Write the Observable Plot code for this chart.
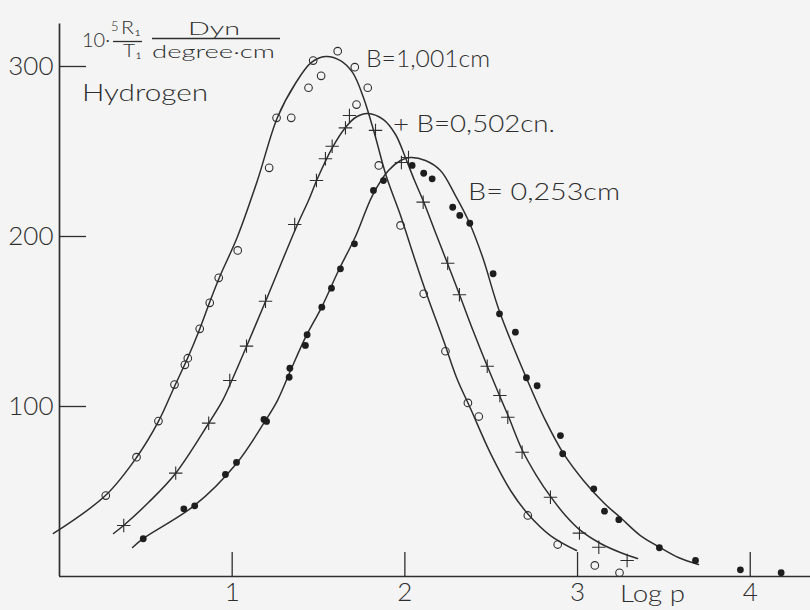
<!DOCTYPE html>
<html>
<head>
<meta charset="utf-8">
<script src="https://cdn.jsdelivr.net/npm/d3@7"></script>
<script src="https://cdn.jsdelivr.net/npm/@observablehq/plot@0.6"></script>
<style>
html, body { margin: 0; padding: 0; background: #f4f4f4; }
#chart svg { display: block; }
</style>
</head>
<body>
<div id="chart"></div>
<script>
// ---- tick values ----
const xTicks = [1, 2, 3, 4];
const yTicks = [100, 200, 300];

// ---- measured points: B = 1,001 cm (open circles) ----
const circleLogp = [0.268,0.446,0.573,0.666,0.726,0.743,0.812,0.870,0.922,1.032,1.214,1.257,1.342,1.442,1.469,1.515,1.611,1.710,1.720,1.785,1.849,1.975,2.109,2.235,2.365,2.428,2.712,2.885,3.100,3.243];
const circleR    = [47.6,70.2,91.4,112.9,124.5,128.4,145.7,161.0,175.7,191.8,240.4,269.8,269.8,287.5,303.5,294.5,309.0,299.6,277.6,287.5,241.8,206.5,166.3,132.5,102.1,94.1,35.9,18.8,6.5,2.2];

// ---- measured points: B = 0,502 cm (plus) ----
const plusLogp = [0.372,0.673,0.864,0.986,1.083,1.193,1.362,1.488,1.540,1.579,1.656,1.679,1.830,1.980,2.021,2.106,2.248,2.316,2.477,2.550,2.596,2.679,2.843,3.011,3.123,3.287];
const plusR    = [30.0,60.8,90.2,115.3,135.5,161.9,207.1,232.9,245.7,253.1,263.9,271.2,262.4,243.5,246.5,220.2,184.3,165.7,123.7,106.5,93.7,73.1,46.6,25.5,17.2,9.4];

// ---- measured points: B = 0,253 cm (filled dots) ----
const dotLogp = [0.485,0.720,0.783,0.961,1.025,1.184,1.199,1.330,1.334,1.424,1.434,1.519,1.575,1.627,1.708,1.818,1.876,2.042,2.109,2.158,2.277,2.318,2.376,2.511,2.548,2.640,2.704,2.766,2.901,2.914,3.094,3.156,3.239,3.474,3.683,3.943,4.179];
const dotR    = [22.2,39.8,41.6,60.0,67.1,92.4,91.2,117.2,122.5,135.9,142.2,158.4,169.6,181.0,195.7,227.1,232.9,241.8,237.2,233.9,217.2,212.4,207.8,178.1,154.5,143.7,116.9,112.2,82.9,72.2,51.6,38.4,33.4,16.9,9.4,3.9,2.2];

// ---- drawn curves ----
const curve1Logp = [-0.035,0.266,0.446,0.573,0.666,0.741,0.811,0.869,0.926,1.031,1.146,1.262,1.366,1.459,1.540,1.627,1.697,1.760,1.824,1.893,1.975,2.056,2.131,2.224,2.299,2.380,2.496,2.612,2.710,2.843,2.994];
const curve1R    = [25.3,47.6,70.0,91.2,111.8,128.2,145.3,161.2,175.9,200.0,232.9,270.0,290.0,302.4,305.9,303.5,296.5,281.8,260.6,235.3,212.4,187.1,164.7,138.8,117.1,98.8,72.4,50.6,37.1,24.1,15.3];

const curve2Logp = [0.313,0.371,0.515,0.672,0.863,0.944,0.990,1.083,1.193,1.378,1.442,1.494,1.581,1.656,1.714,1.784,1.876,1.946,2.003,2.056,2.108,2.177,2.247,2.316,2.397,2.478,2.548,2.600,2.681,2.762,2.843,2.930,3.017,3.133,3.248,3.347];
const curve2R    = [25.3,30.0,43.5,60.6,90.0,103.5,113.5,135.3,161.8,207.1,221.2,234.1,252.4,264.1,270.0,272.4,268.8,260.0,246.5,232.9,220.6,202.4,184.1,165.9,144.1,123.5,106.5,94.1,74.1,59.4,47.1,35.9,27.1,19.4,14.1,10.6];

const curve3Logp = [0.423,0.486,0.782,1.025,1.193,1.262,1.338,1.430,1.517,1.616,1.714,1.812,1.905,1.975,2.032,2.119,2.206,2.293,2.368,2.449,2.548,2.710,2.814,2.918,3.034,3.156,3.248,3.364,3.469,3.584,3.700];
const curve3R    = [17.1,22.4,41.8,66.5,91.8,103.5,121.2,141.8,158.2,180.0,200.0,224.1,238.8,244.7,246.5,244.7,238.8,224.1,209.4,188.2,155.9,115.3,91.8,72.4,56.5,42.9,34.7,24.1,17.6,11.2,7.1];

// ---- texts ----
const seriesLabels = ["B=1,001cm", "+ B=0,502cn.", "B= 0,253cm"];
const gasLabel = "Hydrogen";
const xAxisLabel = "Log p";

// ---- build tables ----
const rows = (xs, ys) => xs.map((x, i) => ({logp: x, r: ys[i]}));
const circles = rows(circleLogp, circleR);
const pluses = rows(plusLogp, plusR);
const dots = rows(dotLogp, dotR);
const curve1 = rows(curve1Logp, curve1R);
const curve2 = rows(curve2Logp, curve2R);
const curve3 = rows(curve3Logp, curve3R);

const INK = "#2e2e2e";
const FONT = "Lato, 'DejaVu Sans', sans-serif";

const plot = Plot.plot({
  width: 810,
  height: 610,
  marginLeft: 59,
  marginRight: 0,
  marginTop: 23.5,
  marginBottom: 34,
  x: {domain: [0, 4.349]},
  y: {domain: [0, 325]},
  style: {background: "#f4f4f4", color: INK, fontFamily: FONT, overflow: "visible"},
  marks: [
    Plot.ruleX([0], {stroke: INK, strokeWidth: 1.7}),
    Plot.ruleY([0], {stroke: INK, strokeWidth: 1.7}),
    Plot.axisX(xTicks, {tickSize: -24, tickPadding: 30, fontSize: 26, fontWeight: 300, label: null, stroke: INK, strokeWidth: 1.3, tickFormat: d => String(d)}),
    Plot.axisY(yTicks, {tickSize: -27, tickPadding: 33, fontSize: 26, fontWeight: 300, label: null, stroke: INK, strokeWidth: 1.3, tickFormat: d => String(d)}),
    Plot.line(curve1, {x: "logp", y: "r", curve: "catmull-rom", stroke: INK, strokeWidth: 1.5}),
    Plot.line(curve2, {x: "logp", y: "r", curve: "catmull-rom", stroke: INK, strokeWidth: 1.5}),
    Plot.line(curve3, {x: "logp", y: "r", curve: "catmull-rom", stroke: INK, strokeWidth: 1.5}),
    Plot.dot(circles, {x: "logp", y: "r", symbol: "circle", r: 3.8, fill: "none", stroke: INK, strokeWidth: 1.1}),
    Plot.dot(pluses, {x: "logp", y: "r", symbol: "plus", r: 4.4, stroke: INK, strokeWidth: 1.1}),
    Plot.dot(dots, {x: "logp", y: "r", symbol: "circle", r: 3.4, fill: "#1e1e1e", stroke: "none"})
  ]
});

document.getElementById("chart").appendChild(plot);

// ---- annotations (axis title as a fraction, series labels) ----
const svg = d3.select(plot);
const g = svg.append("g")
  .attr("font-family", FONT)
  .attr("font-weight", 300)
  .attr("text-anchor", "start")
  .attr("fill", INK);

const textLayout = [
  {t: "10·", x: 82, y: 47, s: 20, w: 28},
  {t: "5", x: 111, y: 31, s: 13},
  {t: "R₁", x: 121, y: 34, s: 17, w: 20},
  {t: "T₁", x: 123, y: 57, s: 18, w: 19},
  {t: "Dyn", x: 188, y: 35, s: 17, w: 52},
  {t: "degree·cm", x: 152, y: 58, s: 18, w: 123},
  {t: gasLabel, x: 82, y: 101, s: 23, w: 126},
  {t: seriesLabels[0], x: 366, y: 67, s: 23, w: 124},
  {t: seriesLabels[1], x: 393, y: 132, s: 24, w: 162},
  {t: seriesLabels[2], x: 468, y: 200, s: 24, w: 152},
  {t: xAxisLabel, x: 620, y: 602, s: 23, w: 65}
];
for (const d of textLayout) {
  const el = g.append("text").attr("x", d.x).attr("y", d.y).attr("font-size", d.s).text(d.t);
  if (d.w) el.attr("textLength", d.w).attr("lengthAdjust", "spacingAndGlyphs");
}
const bars = [
  {x1: 113, x2: 142, y: 41.5},
  {x1: 152, x2: 280, y: 38.5}
];
for (const b of bars) {
  g.append("line").attr("x1", b.x1).attr("x2", b.x2).attr("y1", b.y).attr("y2", b.y)
    .attr("stroke", INK).attr("stroke-width", 1.3);
}
</script>
</body>
</html>
